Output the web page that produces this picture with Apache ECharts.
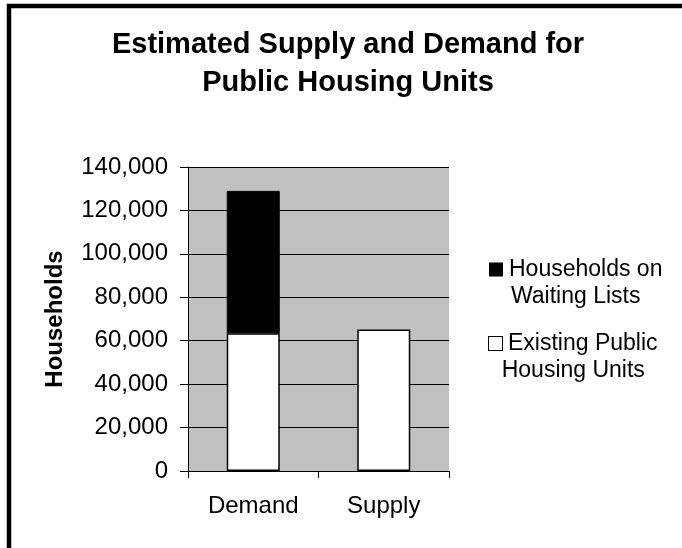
<!DOCTYPE html>
<html><head><meta charset="utf-8">
<script src="https://cdn.jsdelivr.net/npm/echarts@6/dist/echarts.min.js"></script>
<style>html,body{margin:0;padding:0;background:#fff}#c{width:682px;height:548px}</style>
</head><body><div id="c"></div>
<script>
const titleLines = ['Estimated Supply and Demand for', 'Public Housing Units'];
const categories = ['Demand', 'Supply'];
const seriesNames = ['Households on Waiting Lists', 'Existing Public Housing Units'];
const legendLines = [['Households on', 'Waiting Lists'], ['Existing Public', 'Housing Units']];
const existingUnits = [63400, 65200];
const waitingLists = [65600, null];
const yMin = 0, yMax = 140000, yStep = 20000;
const yAxisName = 'Households';

const FF = '"Liberation Sans", Arial, sans-serif';
const chart = echarts.init(document.getElementById('c'), null, {renderer: 'canvas'});
chart.setOption({
  backgroundColor: '#fff',
  animation: false,
  graphic: [{
    type: 'rect', silent: true, z: 100,
    shape: {x: 9, y: 6, width: 900, height: 900},
    style: {fill: null, stroke: '#000', lineWidth: 4.5}
  }],
  title: {
    text: titleLines.join('\n'),
    left: 348, top: 26, padding: 0, textAlign: 'center',
    textStyle: {fontFamily: FF, fontSize: 29, fontWeight: 'bold', color: '#000', lineHeight: 38}
  },
  legend: {
    orient: 'vertical', left: 483, top: 256, padding: 0, itemGap: 20,
    itemWidth: 0, itemHeight: 0, itemStyle: {opacity: 0},
    data: seriesNames,
    formatter: function (name) {
      const i = seriesNames.indexOf(name);
      const sq = i === 0 ? 'sqB' : 'sqW';
      return '{' + sq + '|}{sp|}{t|' + legendLines[i][0] + '}\n{t|' + legendLines[i][1] + '}';
    },
    textStyle: {
      fontFamily: FF, fontSize: 23, lineHeight: 27, color: '#000',
      rich: {
        sqB: {width: 14, height: 14, backgroundColor: '#000', align: 'center'},
        sqW: {width: 13, height: 13, backgroundColor: '#fff', borderColor: '#000', borderWidth: 1, align: 'center'},
        sp: {width: 6, align: 'center'},
        t: {fontFamily: FF, fontSize: 23, lineHeight: 27, color: '#000', align: 'center'}
      }
    }
  },
  grid: {
    left: 188, right: 233, top: 167, bottom: 77,
    show: true, backgroundColor: '#c0c0c0', borderWidth: 0
  },
  xAxis: {
    type: 'category', data: categories,
    axisLine: {show: true, lineStyle: {color: '#000', width: 1}},
    axisTick: {show: true, length: 7, lineStyle: {color: '#000'}},
    axisLabel: {fontFamily: FF, fontSize: 24, color: '#000', margin: 23},
    splitLine: {show: false}
  },
  yAxis: {
    type: 'value', min: yMin, max: yMax, interval: yStep,
    name: yAxisName, nameLocation: 'middle', nameGap: 121,
    nameTextStyle: {fontFamily: FF, fontSize: 24, fontWeight: 'bold', color: '#000'},
    axisLine: {show: true, lineStyle: {color: '#000', width: 1}},
    axisTick: {show: true, length: 8, lineStyle: {color: '#000'}},
    axisLabel: {
      fontFamily: FF, fontSize: 24, color: '#000', margin: 20,
      formatter: function (v) { return v.toLocaleString('en-US'); }
    },
    splitLine: {show: true, lineStyle: {color: '#000', width: 1}}
  },
  series: [
    {
      name: seriesNames[1], type: 'bar', stack: 'total', data: existingUnits, barWidth: 53,
      itemStyle: {color: '#fff', borderColor: '#000', borderWidth: 1.5}
    },
    {
      name: seriesNames[0], type: 'bar', stack: 'total', data: waitingLists, barWidth: 53,
      itemStyle: {color: '#000', borderColor: '#000', borderWidth: 1}
    }
  ]
});
</script>
</body></html>
